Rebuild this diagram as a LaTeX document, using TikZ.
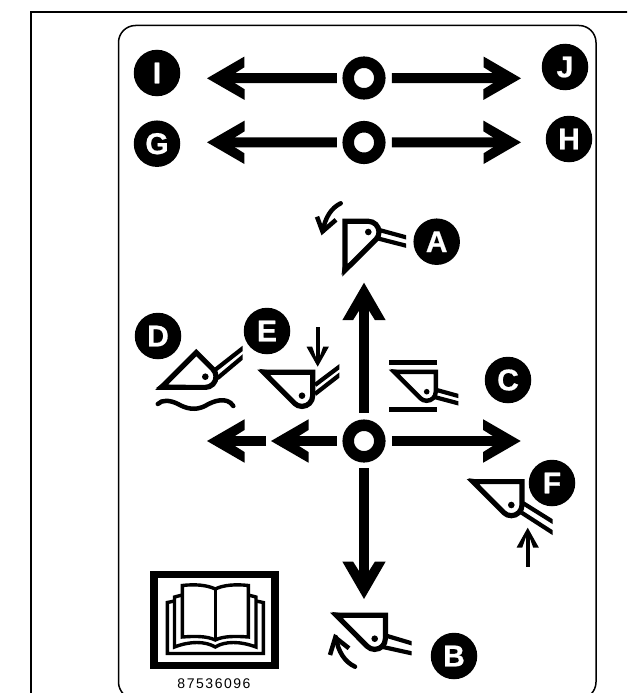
\documentclass[tikz,border=0pt]{standalone}
\usepackage{fontspec}
\setmainfont{Liberation Sans}
\newfontfamily\codefont[LetterSpace=11]{Liberation Sans}
\newfontfamily\badgefont[UprightFont=* Bold,FakeBold=0.7]{Liberation Sans}
\usetikzlibrary{arrows.meta}
\pgfdeclarearrow{
  name=FatHead,
  setup code={\pgfarrowssettipend{0pt}\pgfarrowssetbackend{-37.5pt}\pgfarrowssetvisualbackend{-15pt}\pgfarrowssetlineend{-15pt}},
  drawing code={
    \pgfpathmoveto{\pgfqpoint{0pt}{0pt}}
    \pgfpathlineto{\pgfqpoint{-37.5pt}{21.7pt}}
    \pgfpathlineto{\pgfqpoint{-37.5pt}{11pt}}
    \pgfpathlineto{\pgfqpoint{-28pt}{5pt}}
    \pgfpathlineto{\pgfqpoint{-28pt}{-5pt}}
    \pgfpathlineto{\pgfqpoint{-37.5pt}{-11pt}}
    \pgfpathlineto{\pgfqpoint{-37.5pt}{-21.7pt}}
    \pgfpathclose\pgfusepathqfill},
  defaults={}
}
\pgfdeclarearrow{
  name=SlimHead,
  setup code={\pgfarrowssettipend{0pt}\pgfarrowssetbackend{-20pt}\pgfarrowssetvisualbackend{-6pt}\pgfarrowssetlineend{-6pt}},
  drawing code={
    \pgfpathmoveto{\pgfqpoint{0pt}{0pt}}
    \pgfpathlineto{\pgfqpoint{-20pt}{11.2pt}}
    \pgfpathlineto{\pgfqpoint{-20pt}{5.5pt}}
    \pgfpathlineto{\pgfqpoint{-10pt}{2pt}}
    \pgfpathlineto{\pgfqpoint{-10pt}{-2pt}}
    \pgfpathlineto{\pgfqpoint{-20pt}{-5.5pt}}
    \pgfpathlineto{\pgfqpoint{-20pt}{-11.2pt}}
    \pgfpathclose\pgfusepathqfill},
  defaults={}
}
\tikzset{
  badge/.style={circle,fill=black,text=white,minimum size=46.5pt,inner sep=0pt,
    font=\badgefont\fontsize{30}{30}\selectfont},
  ring/.style={circle,draw=black,line width=11.5pt,minimum size=31.6pt,inner sep=0pt},
  fatarrow/.style={line width=10pt,-{FatHead}},
  slimarrow/.style={line width=4pt,-{SlimHead}},
  arm/.style={line width=4.2pt},
  curvestem/.style={line width=4.5pt,line cap=round},
  bucket/.pic={
    \draw[line width=#1,miter limit=10,line join=miter]
      (-38.4,-23.4) -- (10.7,-23.4) -- (10.7,0)
      .. controls (10.7,5.9) and (5.9,10.7) .. (0,10.7)
      .. controls (-2.8,10.7) and (-5.5,9.6) .. (-7.5,7.6) -- cycle;
    \fill (-43,-26.8) -- (-35,-25.7) -- (-30,-18) -- cycle;
    \fill (0,0) circle (3.3pt);
  }
}
\begin{document}
\begin{tikzpicture}[x=1pt,y=-1pt]
\useasboundingbox (0,0) rectangle (627,693);
\clip (0,0) rectangle (627,693);
\fill[white] (0,0) rectangle (627,693);
% frames
\draw[line width=2.2pt] (640,12) -- (30.7,12) -- (30.7,700);
\draw[line width=1.5pt,rounded corners=17pt] (118.5,25.5) rectangle (596,699);

% upper rows
\node[ring] (r1) at (364,78) {};
\node[ring] (r2) at (364,142.5) {};
\node[ring] (r3) at (364,441) {};
\coordinate (r1l) at (207,78.3);
\coordinate (r1r) at (521,78.3);
\coordinate (r2l) at (207,142.3);
\coordinate (r2r) at (521,142.3);
\draw[fatarrow,shorten <=5.5pt] (r1.west) -- (r1l);
\draw[fatarrow,shorten <=6.4pt] (r1.east) -- (r1r);
\draw[fatarrow,shorten <=5.5pt] (r2.west) -- (r2l);
\draw[fatarrow,shorten <=6.4pt] (r2.east) -- (r2r);

% cross
\coordinate (up) at (364,282.7);
\coordinate (down) at (364,599);
\coordinate (right) at (520.7,441);
\coordinate (left1) at (271,441);
\coordinate (left2s) at (266,441);
\coordinate (left2) at (207,441);
\draw[fatarrow,shorten <=6.7pt] (r3.north) -- (up);
\draw[fatarrow,shorten <=5.5pt] (r3.south) -- (down);
\draw[fatarrow,shorten <=6.2pt] (r3.east) -- (right);
\draw[fatarrow,shorten <=5.5pt] (r3.west) -- (left1);
\draw[fatarrow] (left2s) -- (left2);

% badges
\node[badge] (I) at (157,73) {I};
\node[badge] (J) at (565,67) {J};
\node[badge] (G) at (157,143.7) {G};
\node[badge] (H) at (569,139) {H};
\node[badge] (A) at (436.7,241.7) {A};
\node[badge] (D) at (158,336) {D};
\node[badge] (E) at (267,331) {E};
\node[badge] (C) at (508,380) {C};
\node[badge] (F) at (552,483) {F};
\node[badge] (B) at (454,656) {B};

% bucket A
\pic[rotate=90] at (368.3,232) {bucket=5.2pt};
\begin{scope}
\clip (370,220) rectangle (406,255);
\draw[arm] (379.3,230) -- (410,238.4);
\draw[arm] (377.3,238.3) -- (410,246.7);
\end{scope}
\draw[curvestem] (340.7,203.3) .. controls (331,208) and (325,218) .. (322.8,231);
\draw[line width=4.5pt,miter limit=10] (317,216.7) -- (322.5,231.5) -- (336,219.8);

% bucket D
\pic[rotate=45] at (205.3,376.7) {bucket=5.2pt};
\begin{scope}
\clip (205,340) rectangle (242.7,390);
\draw[arm] (215,370) -- (247.7,344.4);
\draw[arm] (217.3,378.3) -- (247.7,352.8);
\end{scope}
\draw[line width=4.5pt,line cap=round] (157.8,404) .. controls (162,399.5) and (170,400) .. (178,404)
  .. controls (186,408.5) and (195,411) .. (205,406)
  .. controls (213,401) and (227,396) .. (233.3,406);

% bucket E
\pic at (302,395.7) {bucket=5.2pt};
\begin{scope}
\clip (305,355) rectangle (339.3,405);
\draw[arm] (315,385) -- (344,363.2);
\draw[arm] (315,394) -- (344,371.5);
\end{scope}
\coordinate (es) at (317.7,327.3);
\coordinate (ee) at (317.7,366.7);
\draw[slimarrow] (es) -- (ee);

% bucket C
\pic[scale=.85] at (426.7,391.7) {bucket=4.4pt};
\begin{scope}
\clip (425,385) rectangle (458.3,410);
\draw[arm] (436.7,390) -- (462.3,397.1);
\draw[arm] (433.3,396.7) -- (462.3,404.4);
\end{scope}
\draw[line width=5pt] (389.3,362.7) -- (437.3,362.7);
\draw[line width=5pt] (389.3,409.7) -- (437.3,409.7);

% bucket F
\pic at (511.3,505) {bucket=5.2pt};
\begin{scope}
\clip (515,495) rectangle (552.7,540);
\draw[arm] (523.3,503.3) -- (557.7,524.8);
\draw[arm] (521.7,512.7) -- (557.7,535.9);
\end{scope}
\coordinate (fs) at (527.7,566.7);
\coordinate (fe) at (527.7,527.7);
\draw[slimarrow] (fs) -- (fe);

% bucket B
\pic at (374.7,638.7) {bucket=5.2pt};
\begin{scope}
\clip (375,630) rectangle (411.7,660);
\draw[arm] (387.3,636) -- (415.7,644.5);
\draw[arm] (381.7,646.7) -- (415.7,654.2);
\end{scope}
\draw[curvestem] (355,666.7) .. controls (345,662) and (338,652) .. (335.8,637);
\draw[line width=4.5pt,miter limit=10] (330,655) -- (335.3,637.5) -- (349,648.3);

% book
\draw[line width=7.5pt] (153.8,574.7) rectangle (275,665.3);
\begin{scope}[line width=3.4pt,line join=miter]
\draw (182.3,637) -- (182.3,585.5) .. controls (195,584) and (207,585) .. (215.3,589)
  .. controls (223,585) and (236,584) .. (248.3,585.5) -- (248.3,637)
  .. controls (236,636) and (223,636) .. (215.3,640)
  .. controls (207,636) and (195,636) .. (182.3,637) -- cycle;
\draw (215.3,589) -- (215.3,640);
\draw (182.3,595) -- (174.5,597) -- (174.5,647)
  .. controls (190,641) and (205,641) .. (215.3,647)
  .. controls (225,641) and (240,641) .. (256,647)
  -- (256,597) -- (248.3,595);
\draw (174.5,601) -- (167.3,602.5) -- (167.3,653.5) -- (263.3,653.5) -- (263.3,602.5) -- (256,601);
\end{scope}
\node[font=\codefont\fontsize{14}{14}\selectfont,inner sep=0pt] (code) at (214,683.7) {87536096};
\end{tikzpicture}
\end{document}
